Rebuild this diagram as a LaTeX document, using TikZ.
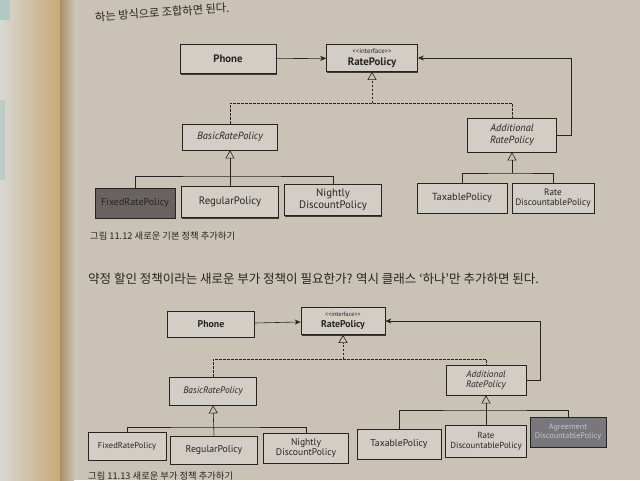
\documentclass[tikz,border=0pt]{standalone}
\usepackage{fontspec}
\setmainfont{PT Sans}
\newfontfamily\kr{Noto Sans CJK KR}
\usetikzlibrary{arrows.meta,shadows}
\definecolor{page}{RGB}{201,194,181}
\definecolor{leftpage}{RGB}{216,216,210}
\definecolor{gutter}{RGB}{200,168,120}
\definecolor{boxfill}{RGB}{210,206,198}
\definecolor{ink}{RGB}{38,36,34}
\definecolor{darkbox}{RGB}{104,99,94}
\definecolor{greybox}{RGB}{120,120,124}
\definecolor{paleink}{RGB}{196,196,198}
\definecolor{tabteal}{RGB}{176,200,196}

\begin{document}
\begin{tikzpicture}[x=1pt,y=-1pt,
    cls/.style={draw=ink, line width=0.7pt, fill=boxfill, align=center, inner sep=1pt,
        text=ink, font=\fontsize{10.8}{11.6}\selectfont,
        drop shadow={shadow xshift=0.9pt, shadow yshift=-1.1pt, fill=ink, opacity=0.85}},
    clsb/.style={cls, font=\fontsize{9.8}{10.6}\selectfont},
    abst/.style={cls, font=\fontsize{10.4}{11.4}\selectfont\itshape},
    abstb/.style={cls, font=\fontsize{9.4}{10.2}\selectfont\itshape},
    assoc/.style={draw=ink, line width=0.6pt, -{Stealth[length=6pt,width=5pt]}},
    inh/.style={draw=ink, line width=0.6pt, -{Triangle[open,length=8pt,width=9pt]}},
    real/.style={inh, dashed, dash pattern=on 2.5pt off 1.5pt},
    tree/.style={draw=ink, line width=0.6pt},
    body/.style={anchor=west, text=ink, inner sep=0pt, font=\kr\fontsize{12.5}{14}\selectfont},
    caption/.style={anchor=west, text=ink, inner sep=0pt, font=\kr\fontsize{9.3}{11}\selectfont}]
\useasboundingbox (0,0) rectangle (640,480);

% page
\fill[page] (0,0) rectangle (640,480);
\shade[left color=leftpage, right color=gutter] (0,0) rectangle (60,480);
\shade[left color=gutter!85!black, right color=page] (60,0) rectangle (74,480);
\fill[tabteal] (0,0) rectangle (10,20);
\fill[tabteal!70!leftpage] (0,100) rectangle (5,180);

\node[body, font=\kr\fontsize{11.2}{13}\selectfont, rotate=4] (intro) at (95,17) {하는 방식으로 조합하면 된다.};

% figure 11.12
\node[cls, minimum width=96pt, minimum height=29pt] (phone) at (228,59) {\textbf{Phone}};
\node[cls, minimum width=91pt, minimum height=27pt] (rate) at (372,58)
    {{\fontsize{6.8}{7.2}\selectfont <{}<interface>{}>}\\ \textbf{RatePolicy}};
\node[abst, minimum width=95pt, minimum height=26pt] (basic) at (230,137) {BasicRatePolicy};
\node[abst, minimum width=89pt, minimum height=34pt] (addl) at (512,135) {Additional\\RatePolicy};
\node[cls, fill=darkbox, minimum width=80pt, minimum height=30pt, font=\fontsize{10}{11}\selectfont] (fixed) at (135,203) {FixedRatePolicy};
\node[cls, minimum width=97pt, minimum height=31pt] (regular) at (230,202) {RegularPolicy};
\node[cls, minimum width=97pt, minimum height=31pt] (nightly) at (333,200) {Nightly\\DiscountPolicy};
\node[cls, minimum width=90pt, minimum height=30pt, font=\fontsize{10.3}{11}\selectfont] (taxable) at (462,198) {TaxablePolicy};
\node[cls, minimum width=82pt, minimum height=30pt, font=\fontsize{9.3}{10.2}\selectfont] (ratedisc) at (553,198) {Rate\\DiscountablePolicy};

\draw[assoc] (phone) -- (rate);
\draw[assoc] (addl.east) -- (571,135) |- (rate.east);
\coordinate (realtop) at (372,103);
\draw[tree, dashed, dash pattern=on 2.5pt off 1.5pt] (basic.north) |- (realtop) -| (addl.north);
\draw[real] (realtop) -- (rate.south);
\coordinate (basicjoin) at (230,176);
\draw[tree] (fixed.north) |- (basicjoin) -| (nightly.north);
\draw[inh] (regular.north) -- (basic.south);
\coordinate (addljoin) at (512,173);
\draw[tree] (taxable.north) |- (addljoin) -| (ratedisc.north);
\draw[inh] (addljoin) -- (addl.south);

\node[caption] (cap1) at (90,236) {그림 11.12 새로운 기본 정책 추가하기};
\node[body] (para) at (88,279) {약정 할인 정책이라는 새로운 부가 정책이 필요한가? 역시 클래스 ‘하나’만 추가하면 된다.};

% figure 11.13
\node[clsb, minimum width=87pt, minimum height=26pt] (phoneB) at (211,324) {\textbf{Phone}};
\node[clsb, minimum width=84pt, minimum height=27pt] (rateB) at (343,321)
    {{\fontsize{6.2}{6.6}\selectfont <{}<interface>{}>}\\ \textbf{RatePolicy}};
\node[abstb, minimum width=87pt, minimum height=28pt] (basicB) at (213,391) {BasicRatePolicy};
\node[abstb, minimum width=80pt, minimum height=30pt] (addlB) at (486,380) {Additional\\RatePolicy};
\node[clsb, minimum width=78pt, minimum height=28pt, font=\fontsize{8.6}{9.4}\selectfont] (fixedB) at (127,446) {FixedRatePolicy};
\node[clsb, minimum width=87pt, minimum height=28pt] (regularB) at (214,450) {RegularPolicy};
\node[clsb, minimum width=85pt, minimum height=30pt, font=\fontsize{9.6}{10.2}\selectfont] (nightlyB) at (306,448) {Nightly\\DiscountPolicy};
\node[clsb, minimum width=84pt, minimum height=30pt] (taxableB) at (399,444) {TaxablePolicy};
\node[clsb, minimum width=81pt, minimum height=32pt, font=\fontsize{8.8}{9.6}\selectfont] (ratediscB) at (486,441) {Rate\\DiscountablePolicy};
\node[clsb, fill=greybox, text=paleink, minimum width=76pt, minimum height=30pt, font=\fontsize{8.2}{9}\selectfont] (agreeB) at (568,432) {Agreement\\DiscountablePolicy};

\draw[assoc] (phoneB) -- (rateB);
\draw[assoc] (addlB.east) -- (540,380) |- (rateB.east);
\coordinate (realtopB) at (343,359);
\draw[tree, dashed, dash pattern=on 2.5pt off 1.5pt] (basicB.north) |- (realtopB) -| (addlB.north);
\draw[real] (realtopB) -- (rateB.south);
\coordinate (basicjoinB) at (214,427);
\draw[tree] (fixedB.north) |- (basicjoinB) -| (nightlyB.north);
\draw[inh] (regularB.north) -- (basicB.south);
\coordinate (addljoinB) at (486,410);
\draw[tree] (taxableB.north) |- (addljoinB) -| (agreeB.north);
\draw[inh] (ratediscB.north) -- (addlB.south);

\node[caption, anchor=north west] (cap2) at (88,472) {그림 11.13 새로운 부가 정책 추가하기};
\end{tikzpicture}
\end{document}
